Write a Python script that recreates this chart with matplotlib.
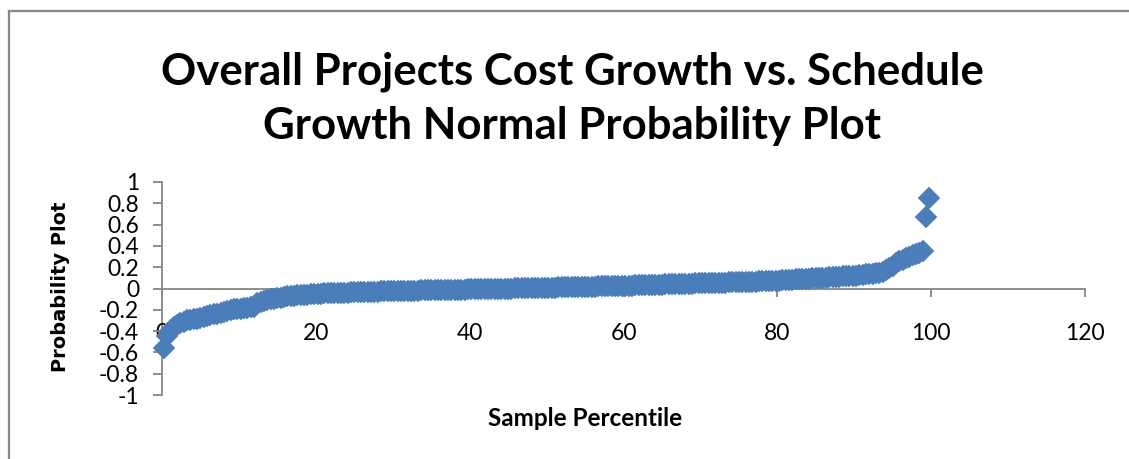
import matplotlib
matplotlib.use("Agg")
import matplotlib.pyplot as plt
from matplotlib.lines import Line2D

# Sorted residual-style values (normal probability plot), ascending
values = [
    -0.56, -0.45, -0.40, -0.36, -0.34, -0.32, -0.31,
    -0.30, -0.295, -0.29, -0.285, -0.28, -0.27, -0.26, -0.25, -0.24, -0.235, -0.23, -0.22,
    -0.21, -0.20, -0.195, -0.19, -0.19, -0.185, -0.18, -0.175, -0.17,
    -0.14, -0.13, -0.12, -0.11, -0.10, -0.095, -0.09, -0.085, -0.08, -0.075, -0.07, -0.068,
    -0.065, -0.062, -0.06, -0.058, -0.055, -0.053, -0.05, -0.048, -0.046,
    -0.044, -0.043, -0.042, -0.041, -0.040, -0.039, -0.038, -0.037, -0.036, -0.035,
    -0.034, -0.033, -0.032, -0.031, -0.030, -0.029, -0.028, -0.027, -0.026, -0.025,
    -0.024, -0.024, -0.023, -0.022, -0.021, -0.020, -0.019, -0.019, -0.018, -0.017,
    -0.016, -0.016, -0.015, -0.014, -0.013, -0.013, -0.012, -0.012, -0.011, -0.011,
    -0.010, -0.010, -0.009, -0.008,
    -0.007, -0.006, -0.006, -0.005, -0.004, -0.004, -0.003, -0.002, -0.002, -0.001,
    0.000, 0.000, 0.001, 0.002, 0.002, 0.003, 0.004, 0.004, 0.005, 0.006,
    0.006, 0.007, 0.008, 0.008, 0.009, 0.010, 0.010, 0.011, 0.012, 0.013,
    0.013, 0.014, 0.015, 0.016, 0.016, 0.017, 0.018, 0.019, 0.019, 0.020,
    0.021, 0.022, 0.023, 0.024, 0.025, 0.026, 0.027, 0.028, 0.029, 0.030,
    0.031, 0.032, 0.033, 0.034, 0.035, 0.036, 0.037, 0.038, 0.039, 0.040,
    0.041, 0.042, 0.043, 0.044, 0.045, 0.046, 0.047, 0.048, 0.049, 0.050,
    0.051, 0.052, 0.053, 0.054, 0.055, 0.056, 0.057, 0.058, 0.059, 0.060,
    0.061, 0.062, 0.063, 0.064, 0.065, 0.066, 0.067, 0.069, 0.070, 0.072,
    0.073, 0.075,
    0.077, 0.079, 0.081, 0.083, 0.085, 0.087, 0.089, 0.091, 0.093, 0.095,
    0.097, 0.099, 0.101, 0.103, 0.105, 0.107, 0.109, 0.111, 0.113, 0.115,
    0.117, 0.119, 0.121,
    0.124, 0.128, 0.132, 0.136, 0.140, 0.145, 0.150, 0.158,
    0.175, 0.195, 0.215, 0.235, 0.255, 0.27, 0.285, 0.30, 0.315, 0.325, 0.335, 0.35,
    0.67, 0.85,
]

title_lines = ["Overall Projects Cost Growth vs. Schedule",
               "Growth Normal Probability Plot"]
x_label = "Sample Percentile"
y_label = "Probability Plot"
x_ticks = [0, 20, 40, 60, 80, 100, 120]
y_ticks = [-1, -0.8, -0.6, -0.4, -0.2, 0, 0.2, 0.4, 0.6, 0.8, 1]
y_tick_labels = ["-1", "-0.8", "-0.6", "-0.4", "-0.2", "0", "0.2", "0.4", "0.6", "0.8", "1"]

# Plotting positions: percentile of each ordered sample
n = len(values)
percentiles = [100.0 * (i + 0.5) / n for i in range(n)]

W, H = 1129, 459
fig = plt.figure(figsize=(W / 100, H / 100), dpi=100)
fig.patch.set_facecolor("white")


def fx(px):
    return px / W


def fy(py):
    return 1 - py / H


ax = fig.add_axes([fx(162), fy(395), fx(1085) - fx(162), fy(182) - fy(395)])
ax.set_xlim(0, 120)
ax.set_ylim(-1, 1)

blue = "#4A7EBB"
axis_grey = "#868686"

ax.plot(percentiles, values, linestyle="none", marker="D", markersize=10.8,
        markerfacecolor=blue, markeredgecolor=blue, markeredgewidth=0.3, zorder=3,
        clip_on=False)

for s in ("top", "right"):
    ax.spines[s].set_visible(False)
ax.spines["bottom"].set_position(("data", 0))
for s in ("left", "bottom"):
    ax.spines[s].set_color(axis_grey)
    ax.spines[s].set_linewidth(1.3)
    ax.spines[s].set_zorder(1)

tick_font = dict(family="Lato", size=16.5)
ax.set_xticks(x_ticks)
ax.set_xticklabels([str(t) for t in x_ticks], fontdict=tick_font)
ax.set_yticks(y_ticks)
ax.set_yticklabels(y_tick_labels, fontdict=tick_font)
ax.tick_params(axis="x", direction="out", length=6, width=1.3, color=axis_grey, pad=19)
ax.tick_params(axis="y", direction="out", length=6.5, width=1.3, color=axis_grey, pad=10)

# Title
title_font = dict(family="Lato", weight="bold", size=31.5)
fig.text(fx(572), fy(84), title_lines[0], ha="center", va="baseline", **title_font)
fig.text(fx(572), fy(139), title_lines[1], ha="center", va="baseline", **title_font)

# Axis titles
fig.text(fx(585), fy(418), x_label, ha="center", va="center",
         family="Lato", weight="bold", size=17.5)
fig.text(fx(61), fy(287), y_label, ha="center", va="center", rotation=90,
         family="DejaVu Sans", weight="bold", size=14)

# Chart area border
fig.add_artist(Line2D([fx(8.5), fx(8.5)], [fy(10.5), 0], transform=fig.transFigure,
                      color="#888888", linewidth=1.6))
fig.add_artist(Line2D([fx(8.5), 1], [fy(10.5), fy(10.5)], transform=fig.transFigure,
                      color="#888888", linewidth=1.6))

fig.savefig("out.png", dpi=100)
